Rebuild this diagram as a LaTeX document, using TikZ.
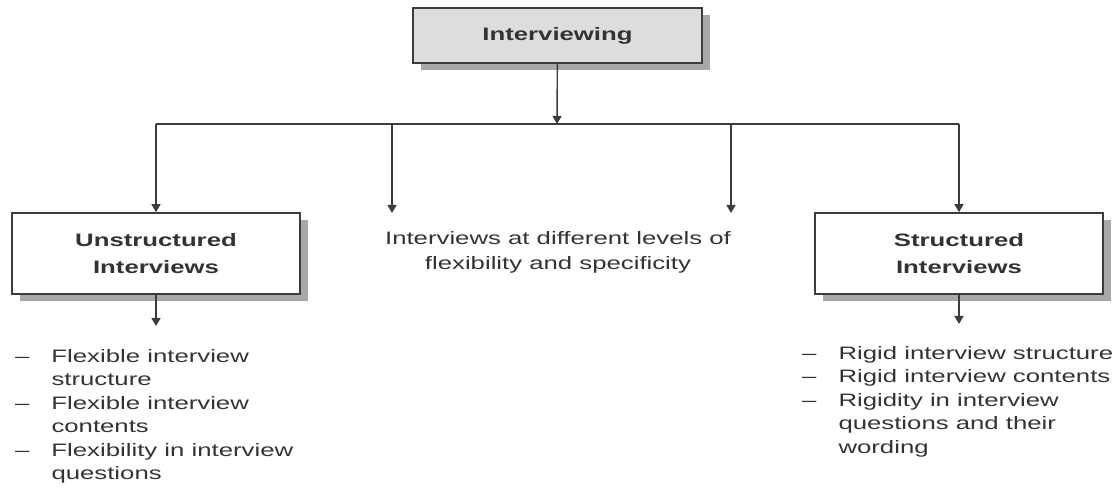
\documentclass[tikz,border=0pt]{standalone}
\usepackage{fontspec}
\setmainfont{Liberation Sans}[FakeStretch=1.43]
\usepackage{xcolor}
\usepackage{tikz}
\usetikzlibrary{arrows.meta,shadows}
\definecolor{ink}{HTML}{333333}
\definecolor{rule}{HTML}{3C3C3C}
\definecolor{topfill}{HTML}{DDDDDD}
\definecolor{shade}{HTML}{A8A8A8}
\tikzset{
  linkline/.style={draw=rule, line width=1.4pt},
  arrowline/.style={linkline, -{Triangle[width=9pt,length=8pt]}},
  boxnode/.style={draw=rule, line width=1.6pt, fill=white, minimum width=288pt, minimum height=81pt,
    align=center, text=ink, font=\fontsize{18}{27}\selectfont\bfseries,
    drop shadow={shadow xshift=8pt, shadow yshift=-7pt, fill=shade, opacity=1}},
  headnode/.style={boxnode, fill=topfill, minimum width=289pt, minimum height=55pt},
  lab/.style={text=ink, font=\fontsize{18}{25}\selectfont, align=center, inner sep=0pt},
  listnode/.style={text=ink, font=\fontsize{18}{23.5}\selectfont, inner sep=0pt, anchor=base west},
}

\begin{document}
\begin{tikzpicture}[x=1pt,y=-1pt]
  \useasboundingbox (0,0) rectangle (1120,494);
  \coordinate (hub) at (557,124);
  \coordinate (hl) at (156,124);
  \coordinate (hr) at (959,124);
  \coordinate (m1) at (392,124);
  \coordinate (m2) at (731,124);
  \coordinate (m1e) at (392,213);
  \coordinate (m2e) at (731,213);
  \coordinate (le) at (156,326);
  \coordinate (re) at (959,324);

  \node[headnode] (top) at (557.5,35.5) {Interviewing};
  \node[boxnode] (unstr) at (156,253.5) {Unstructured\\Interviews};
  \node[boxnode] (str) at (959,253.5) {Structured\\Interviews};
  \node[lab] (mid) at (558,252.5) {Interviews at different levels of\\flexibility and specificity};

  \draw[arrowline] (top) -- (hub);
  \draw[linkline] (hl) -- (hr);
  \draw[arrowline] (hl) -- (unstr);
  \draw[arrowline] (m1) -- (m1e);
  \draw[arrowline] (m2) -- (m2e);
  \draw[arrowline] (hr) -- (str);
  \draw[arrowline] (unstr) -- (le);
  \draw[arrowline] (str) -- (re);

  \node[listnode] (ulist) at (15,362.5) {\begin{tabular}[t]{@{}l@{\hspace{22pt}}l@{}}
    --&Flexible interview\\
      &structure\\
    --&Flexible interview\\
      &contents\\
    --&Flexibility in interview\\
      &questions
  \end{tabular}};
  \node[listnode] (slist) at (802,359.5) {\begin{tabular}[t]{@{}l@{\hspace{22pt}}l@{}}
    --&Rigid interview structure\\
    --&Rigid interview contents\\
    --&Rigidity in interview\\
      &questions and their\\
      &wording
  \end{tabular}};
\end{tikzpicture}
\end{document}
